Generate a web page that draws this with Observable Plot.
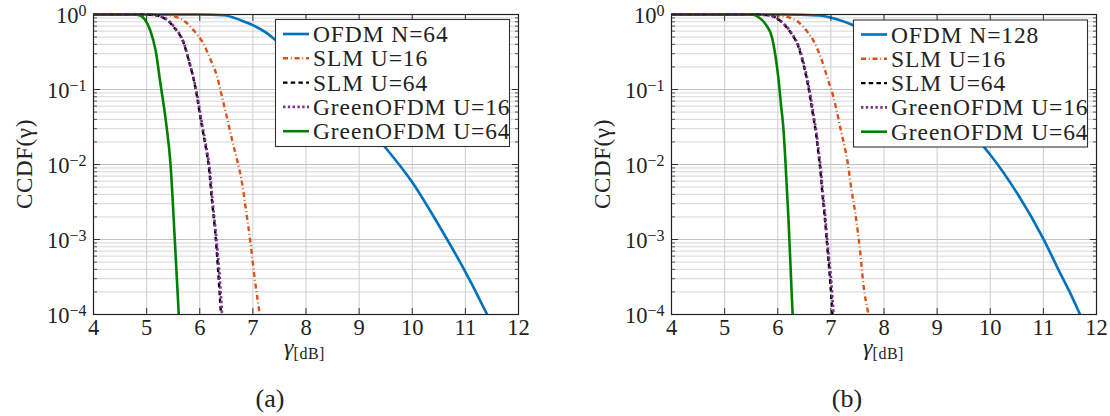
<!DOCTYPE html>
<html>
<head>
<meta charset="utf-8">
<script src="https://cdn.jsdelivr.net/npm/d3@7"></script>
<script src="https://cdn.jsdelivr.net/npm/@observablehq/plot@0.6"></script>
<style>
  html, body { margin: 0; padding: 0; background: #fff; }
  #wrap { position: relative; width: 1110px; height: 416px; overflow: hidden; font-family: "Liberation Serif", "Times New Roman", serif; }
  #wrap > svg { position: absolute; top: 0; }
</style>
</head>
<body>
<div id="wrap"></div>
<script>
// ---------- ticks ----------
const xTicks = [4, 5, 6, 7, 8, 9, 10, 11, 12];
const yDecades = [1e-4, 1e-3, 1e-2, 1e-1, 1];
const yMinorMultipliers = [2, 3, 4, 5, 6, 7, 8, 9];

// ---------- legend labels ----------
const legendA = ["OFDM N=64", "SLM U=16", "SLM U=64", "GreenOFDM U=16", "GreenOFDM U=64"];
const legendB = ["OFDM N=128", "SLM U=16", "SLM U=64", "GreenOFDM U=16", "GreenOFDM U=64"];
const captions = ["(a)", "(b)"];

// ---------- panel (a): [gamma dB, CCDF] ----------
const aOFDM = [[4,1],[6,1],[6.45,0.975],[6.77,0.84],[7.02,0.71],[7.27,0.56],[7.42,0.46],[8,0.21],[8.5,0.095],[9,0.042],[9.49,0.017],[10,0.0058],[10.5,0.00155],[11,0.00037],[11.19,0.000205],[11.28,0.000152],[11.41,0.0001]];
const aSLM16 = [[4,1],[5.2,1],[5.33,0.99],[5.5,0.95],[5.7,0.83],[5.89,0.61],[6.05,0.43],[6.21,0.244],[6.33,0.146],[6.42,0.079],[6.51,0.043],[6.61,0.021],[6.7,0.0118],[6.8,0.0055],[6.88,0.0022],[6.95,0.00097],[7.03,0.00032],[7.13,0.0001]];
const aSLM64 = [[4,1],[4.9,1],[5.1,0.99],[5.26,0.94],[5.4,0.83],[5.51,0.68],[5.7,0.41],[5.81,0.22],[5.89,0.132],[5.95,0.079],[6.01,0.043],[6.08,0.023],[6.14,0.0132],[6.17,0.0095],[6.23,0.0033],[6.3,0.00107],[6.35,0.00035],[6.4,0.0001]];
const aGreen16 = [[4,1],[4.9,1],[5.1,0.99],[5.26,0.94],[5.4,0.84],[5.52,0.68],[5.7,0.42],[5.81,0.225],[5.89,0.135],[5.96,0.079],[6.02,0.043],[6.09,0.023],[6.15,0.0132],[6.18,0.0095],[6.24,0.0033],[6.31,0.00107],[6.37,0.00035],[6.42,0.0001]];
const aGreen64 = [[4,1],[4.75,1],[4.88,0.97],[4.97,0.85],[5.07,0.61],[5.17,0.33],[5.26,0.12],[5.36,0.039],[5.45,0.01],[5.53,0.001],[5.605,0.0001]];

// ---------- panel (b) ----------
const bOFDM = [[4,1],[6.1,1],[6.77,0.97],[7.08,0.88],[7.4,0.73],[8,0.4],[8.5,0.2],[9,0.089],[9.5,0.037],[9.87,0.0175],[10,0.0135],[10.51,0.0041],[11,0.00102],[11.32,0.00035],[11.51,0.00019],[11.69,0.0001]];
const bSLM16 = [[4,1],[5.8,1],[6.01,0.97],[6.2,0.92],[6.39,0.79],[6.54,0.61],[6.7,0.41],[6.83,0.244],[6.95,0.132],[7.05,0.079],[7.11,0.052],[7.19,0.028],[7.26,0.017],[7.31,0.0113],[7.39,0.0045],[7.47,0.002],[7.55,0.0007],[7.61,0.00026],[7.71,0.0001]];
const bSLM64 = [[4,1],[5.55,1],[5.8,0.98],[5.95,0.92],[6.14,0.71],[6.26,0.55],[6.39,0.37],[6.48,0.22],[6.54,0.146],[6.61,0.079],[6.67,0.043],[6.72,0.026],[6.77,0.0132],[6.79,0.0102],[6.84,0.0041],[6.89,0.0018],[6.94,0.0007],[6.99,0.00026],[7.03,0.0001]];
const bGreen16 = [[4,1],[5.55,1],[5.8,0.98],[5.95,0.92],[6.15,0.71],[6.27,0.55],[6.4,0.37],[6.49,0.22],[6.55,0.146],[6.62,0.079],[6.68,0.043],[6.73,0.026],[6.78,0.0132],[6.8,0.0102],[6.85,0.0041],[6.9,0.0018],[6.95,0.0007],[7.01,0.00026],[7.05,0.0001]];
const bGreen64 = [[4,1],[5.5,1],[5.64,0.92],[5.79,0.71],[5.89,0.5],[5.95,0.3],[6.01,0.146],[6.06,0.064],[6.11,0.028],[6.14,0.0125],[6.2,0.002],[6.28,0.0001]];

// ---------- styles ----------
const seriesStyles = [
  {color: "#0072BD", width: 2.6, dash: null},
  {color: "#D95319", width: 2.4, dash: "5,2.8,0.9,2.8"},
  {color: "#000000", width: 2.4, dash: "4.5,3.2"},
  {color: "#7E2F8E", width: 2.7, dash: "2.4,2.4"},
  {color: "#008000", width: 2.6, dash: null}
];

const FONT = '"Liberation Serif", "Times New Roman", serif';
const yMinor = yDecades.slice(0, -1).flatMap(d => yMinorMultipliers.map(m => m * d));

const layout = [
  {left: 0, ml: 93, mr: 37, ylabX: 32, xlabX: 304.5, capX: 270, leg: {x: 275, y: 19, w: 234, h: 127}},
  {left: 555, ml: 116, mr: 14, ylabX: 610, xlabX: 883.5, capX: 847, leg: {x: 853, y: 19.5, w: 234, h: 127}}
];

const wrap = document.getElementById("wrap");
const SVGNS = "http://www.w3.org/2000/svg";

function makePanel(series, L) {
  const marks = [
    Plot.gridX(xTicks, {stroke: "#cdcdcd", strokeOpacity: 1, strokeWidth: 1}),
    Plot.gridY(yMinor, {stroke: "#d5d5d5", strokeOpacity: 1, strokeWidth: 1}),
    Plot.gridY(yDecades, {stroke: "#c2c2c2", strokeOpacity: 1, strokeWidth: 1.2})
  ];
  series.forEach((d, i) => {
    const s = seriesStyles[i];
    marks.push(Plot.line(d, {
      x: p => p[0], y: p => p[1],
      stroke: s.color, strokeWidth: s.width,
      strokeDasharray: s.dash, strokeLinecap: "butt", curve: "monotone-x"
    }));
  });
  marks.push(
    Plot.axisX(xTicks, {anchor: "bottom", tickSize: 0, tickPadding: 5, label: null, tickFormat: d => String(d), fill: "#222"}),
    Plot.axisY(yDecades, {anchor: "left", tickSize: 0, tickPadding: 7, dy: 1.3, label: null,
      tickFormat: d => "10^" + String(Math.round(Math.log10(d))).replace("-", "\u2212"), fill: "#222"}),
    Plot.axisX(xTicks, {anchor: "bottom", tickSize: -6, fill: "none", label: null, stroke: "#333"}),
    Plot.axisX(xTicks, {anchor: "top", tickSize: -6, fill: "none", label: null, stroke: "#333"}),
    Plot.axisY(yDecades, {anchor: "left", tickSize: -7, fill: "none", label: null, stroke: "#333"}),
    Plot.axisY(yDecades, {anchor: "right", tickSize: -7, fill: "none", label: null, stroke: "#333"}),
    Plot.axisY(yMinor, {anchor: "left", tickSize: -4, fill: "none", label: null, stroke: "#555"}),
    Plot.axisY(yMinor, {anchor: "right", tickSize: -4, fill: "none", label: null, stroke: "#555"}),
    Plot.frame({stroke: "#222", strokeWidth: 1.2})
  );
  const svg = Plot.plot({
    width: 555, height: 370,
    marginLeft: L.ml, marginRight: L.mr, marginTop: 14, marginBottom: 56,
    style: {fontFamily: FONT, fontSize: "22.5px", background: "transparent", overflow: "visible"},
    x: {domain: [4, 12]},
    y: {type: "log", domain: [1e-4, 1]},
    marks
  });
  svg.style.left = L.left + "px";
  // superscript exponents on y tick labels
  svg.querySelectorAll('g[aria-label="y-axis tick label"] text').forEach(t => {
    const [base, exp] = t.textContent.split("^");
    t.textContent = "";
    const t1 = document.createElementNS(SVGNS, "tspan");
    t1.textContent = base;
    const t2 = document.createElementNS(SVGNS, "tspan");
    t2.textContent = exp;
    t2.setAttribute("dy", "-7");
    t2.setAttribute("font-size", "16");
    t.appendChild(t1); t.appendChild(t2);
  });
  wrap.appendChild(svg);
}

makePanel([aOFDM, aSLM16, aSLM64, aGreen16, aGreen64], layout[0]);
makePanel([bOFDM, bSLM16, bSLM64, bGreen16, bGreen64], layout[1]);

// ---------- overlay: axis labels, legends, captions ----------
const over = d3.select(wrap).append("svg")
  .attr("width", 1110).attr("height", 416)
  .style("left", "0px")
  .style("font-family", FONT)
  .style("fill", "#222");

[legendA, legendB].forEach((names, k) => {
  const L = layout[k];
  // y label
  over.append("text")
    .attr("transform", `translate(${L.ylabX},164) rotate(-90)`)
    .attr("text-anchor", "middle")
    .attr("font-size", 23)
    .attr("letter-spacing", 0.6)
    .text("CCDF(\u03B3)");
  // x label
  const xl = over.append("text")
    .attr("x", L.xlabX).attr("y", 355)
    .attr("text-anchor", "middle")
    .attr("font-size", 24);
  xl.append("tspan").attr("font-style", "italic").text("\u03B3");
  xl.append("tspan").attr("font-size", 16).attr("dy", 4).attr("letter-spacing", 0.5).text("[dB]");
  // caption
  over.append("text")
    .attr("x", L.capX).attr("y", 407)
    .attr("text-anchor", "middle")
    .attr("font-size", 26)
    .text(captions[k]);
  // legend
  const g = over.append("g").attr("transform", `translate(${L.leg.x},${L.leg.y})`);
  g.append("rect").attr("x", 0.5).attr("y", 0.5).attr("width", L.leg.w).attr("height", L.leg.h)
    .attr("fill", "#fff").attr("stroke", "#333").attr("stroke-width", 1.1);
  names.forEach((name, i) => {
    const s = seriesStyles[i];
    const by = 23 + i * 24.3;
    g.append("line")
      .attr("x1", 8).attr("x2", 34).attr("y1", by - 8).attr("y2", by - 8)
      .attr("stroke", s.color).attr("stroke-width", s.width)
      .attr("stroke-dasharray", s.dash);
    g.append("text")
      .attr("x", 38).attr("y", by)
      .attr("font-size", 23.5)
      .attr("letter-spacing", 0.9)
      .text(name);
  });
});
</script>
</body>
</html>
